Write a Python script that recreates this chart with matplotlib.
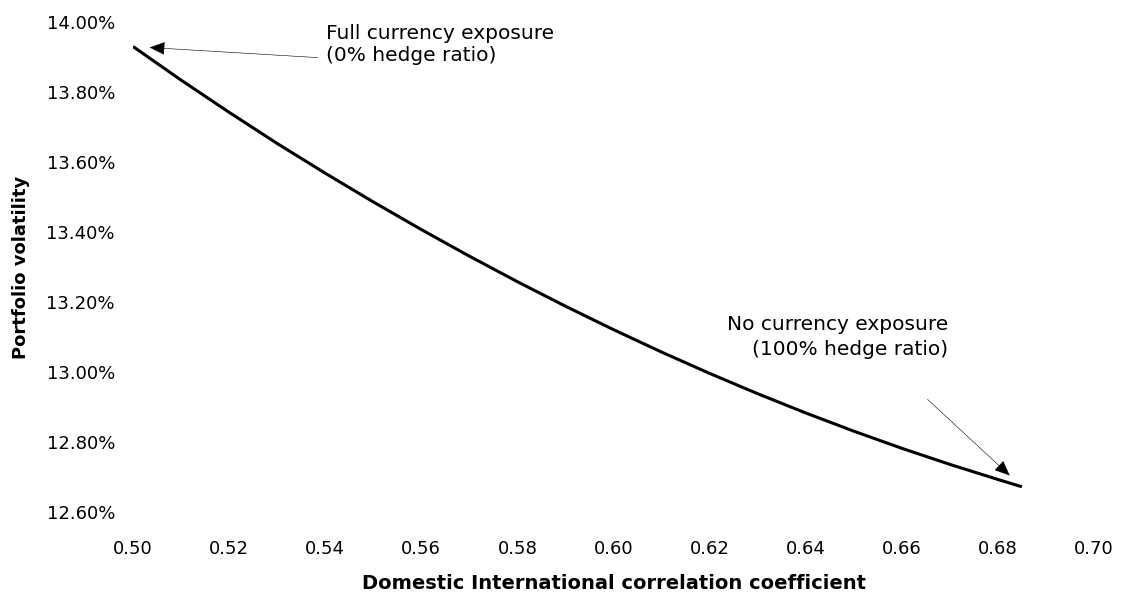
#!/usr/bin/env python3
"""
Volatilidad de la cartera frente a la correlación doméstica-internacional
"""

import matplotlib
matplotlib.use('Agg')
import matplotlib.pyplot as plt
from matplotlib.ticker import FuncFormatter

# Datos
correlation = [0.500, 0.510, 0.520, 0.530, 0.540, 0.550, 0.560, 0.570, 0.580, 0.590,
               0.600, 0.610, 0.620, 0.630, 0.640, 0.650, 0.660, 0.670, 0.680, 0.685]
volatility = [13.930, 13.834, 13.742, 13.653, 13.568, 13.486, 13.407, 13.331, 13.258, 13.188,
              13.121, 13.057, 12.996, 12.938, 12.883, 12.831, 12.782, 12.736, 12.693, 12.672]

x_ticks = [0.50, 0.52, 0.54, 0.56, 0.58, 0.60, 0.62, 0.64, 0.66, 0.68, 0.70]
y_ticks = [12.60, 12.80, 13.00, 13.20, 13.40, 13.60, 13.80, 14.00]

label_full = 'Full currency exposure\n(0% hedge ratio)'
label_none = 'No currency exposure\n(100% hedge ratio)'

plt.rcParams['font.family'] = ['DejaVu Sans']

fig = plt.figure(figsize=(11.24, 6.01), dpi=100)
ax = fig.add_axes([133 / 1124, 89 / 601, 961 / 1124, 490 / 601])

ax.plot(correlation, volatility, color='black', linewidth=2.2, solid_capstyle='butt')

ax.set_xlim(0.50, 0.70)
ax.set_ylim(12.60, 14.00)
ax.set_xticks(x_ticks)
ax.set_yticks(y_ticks)
ax.xaxis.set_major_formatter(FuncFormatter(lambda v, p: f'{v:.2f}'))
ax.yaxis.set_major_formatter(FuncFormatter(lambda v, p: f'{v:.2f}%'))
ax.tick_params(axis='both', length=0, labelsize=13)
ax.tick_params(axis='x', pad=20)
ax.tick_params(axis='y', pad=13)
for s in ax.spines.values():
    s.set_visible(False)

ax.set_xlabel('Domestic International correlation coefficient', fontsize=14, fontweight='bold')
ax.set_ylabel('Portfolio volatility', fontsize=13, fontweight='bold')
ax.xaxis.set_label_coords(0.5, -0.126)
ax.yaxis.set_label_coords(-0.107, 0.5)

arrow = dict(arrowstyle='-|>,head_length=0.7,head_width=0.3', mutation_scale=14,
             color='black', lw=0.4, shrinkA=0, shrinkB=12)

# Flecha y texto: exposición total (inicio de la curva)
ax.annotate('', xy=(correlation[0], volatility[0]), xycoords='data',
            xytext=(133, -8), textcoords='offset points', arrowprops=arrow)
ax.annotate(label_full, xy=(correlation[0], volatility[0]), xycoords='data',
            xytext=(139, 1.5), textcoords='offset points',
            ha='left', va='center', fontsize=14.5, linespacing=1.2)

# Flecha y texto: sin exposición (final de la curva)
ax.annotate('', xy=(correlation[-1], volatility[-1]), xycoords='data',
            xytext=(-68, 63), textcoords='offset points', arrowprops=arrow)
ax.annotate(label_none, xy=(correlation[-1], volatility[-1]), xycoords='data',
            xytext=(-53, 108), textcoords='offset points',
            ha='right', va='center', multialignment='right', fontsize=14.5, linespacing=1.4)

plt.savefig('out.png', dpi=100)
